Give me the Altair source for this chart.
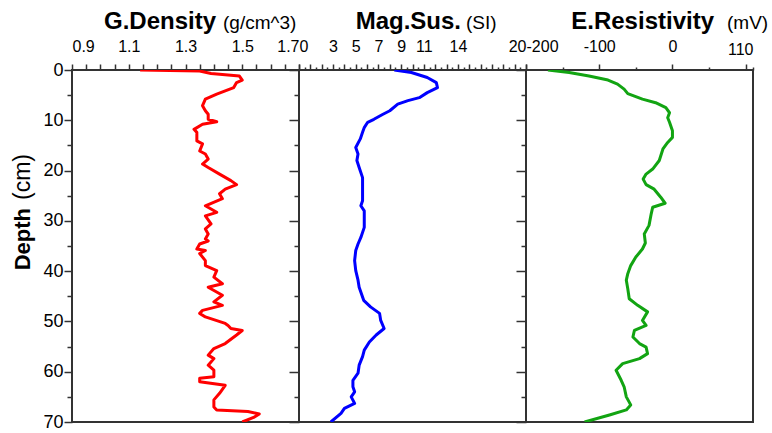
import altair as alt
import pandas as pd

# Core profiles: depth below surface (cm) and measured value
density_depth = [0.0, 0.2, 0.7, 1.2, 2.0, 2.5, 3.5, 4.8, 5.8, 7.1, 8.1, 8.8, 9.8, 10.3, 10.8,
                 11.8, 12.4, 14.1, 14.7, 16.1, 16.7, 17.7, 18.7, 19.4, 20.7, 22.0, 22.8, 23.7,
                 24.6, 25.6, 27.0, 28.3, 29.0, 30.6, 31.6, 32.6, 33.6, 34.0, 34.6, 35.6, 35.9,
                 36.5, 37.9, 38.9, 39.9, 41.2, 42.5, 43.2, 44.8, 46.1, 46.8, 47.8, 48.4, 49.1,
                 50.4, 50.8, 51.4, 51.8, 52.7, 54.4, 55.4, 56.7, 57.4, 58.7, 59.7, 61.0, 61.3,
                 62.0, 62.7, 64.3, 65.6, 67.0, 67.6, 67.9, 68.4, 69.1, 70.0]
density_value = [1.14, 1.35, 1.39, 1.49, 1.50, 1.48, 1.47, 1.41, 1.37, 1.36, 1.37, 1.38, 1.38,
                 1.41, 1.36, 1.33, 1.34, 1.34, 1.36, 1.35, 1.37, 1.38, 1.36, 1.38, 1.42, 1.46,
                 1.48, 1.44, 1.42, 1.43, 1.37, 1.41, 1.37, 1.39, 1.37, 1.38, 1.37, 1.38, 1.35,
                 1.34, 1.37, 1.35, 1.37, 1.37, 1.41, 1.40, 1.43, 1.38, 1.43, 1.40, 1.43, 1.36,
                 1.35, 1.37, 1.44, 1.45, 1.46, 1.50, 1.48, 1.44, 1.40, 1.38, 1.40, 1.38, 1.40,
                 1.40, 1.35, 1.35, 1.44, 1.42, 1.40, 1.40, 1.41, 1.52, 1.56, 1.54, 1.50]

magsus_depth = [0.0, 0.5, 1.5, 2.5, 3.5, 4.5, 5.5, 6.1, 6.8, 8.1, 8.8, 9.8, 10.4, 11.4, 12.4,
                13.7, 15.4, 16.7, 18.0, 19.4, 21.4, 23.3, 26.0, 27.0, 28.0, 31.3, 33.3, 34.6,
                35.9, 37.9, 39.9, 41.8, 43.2, 45.8, 47.1, 48.4, 49.8, 51.4, 52.7, 54.1, 55.7,
                57.0, 58.7, 60.3, 61.7, 63.0, 64.0, 65.0, 66.3, 67.3, 68.3, 70.0]
magsus_value = [8.4, 9.9, 11.3, 12.1, 12.2, 11.3, 10.6, 9.6, 8.7, 8.0, 7.4, 6.6, 6.05, 5.76,
                5.6, 5.4, 5.0, 5.2, 5.1, 5.3, 5.6, 5.6, 5.6, 5.45, 5.75, 5.75, 5.45, 5.2, 5.0,
                4.9, 5.0, 5.2, 5.3, 5.7, 6.3, 7.1, 7.2, 7.5, 6.8, 6.2, 5.75, 5.6, 5.3, 5.2,
                4.75, 4.75, 4.9, 4.6, 4.9, 4.0, 3.7, 2.8]

eres_depth = [0.0, 0.5, 1.2, 2.0, 2.8, 3.8, 4.7, 5.8, 6.5, 7.5, 8.5, 9.5, 10.4, 12.1, 13.4,
              14.4, 15.7, 18.0, 19.7, 20.7, 21.7, 22.8, 23.7, 25.3, 26.5, 27.3, 28.6, 30.9,
              32.6, 34.4, 35.6, 37.2, 38.9, 40.5, 41.8, 43.5, 45.5, 46.8, 48.1, 49.8, 50.8,
              51.8, 53.1, 54.4, 55.1, 56.4, 57.4, 58.4, 59.7, 61.7, 63.0, 65.0, 66.6, 67.6,
              68.6, 70.0]
eres_value = [-170, -141, -114, -88, -75, -66, -61, -41, -23, -9, -4, -6.5, -4, 0, 0, -6.5,
              -13, -18, -27, -36, -40, -36, -25, -16, -10, -27, -29, -32, -38.5, -37, -41, -50,
              -57, -61, -63, -61, -59, -47.5, -34, -41, -36, -52, -54, -45, -36, -34, -45, -68,
              -77, -70, -66, -63, -57, -63, -86, -120]

# Axis ticks and the subset that carries a label
density_ticks = [round(0.9 + 0.05 * i, 2) for i in range(17)]
density_labels = [0.9, 1.1, 1.3, 1.5, 1.7]
magsus_ticks = [i * 0.5 for i in range(41)]
magsus_labels = [0, 3, 5, 7, 9, 11, 14, 20]
eres_ticks = [-200, -150, -100, -50, 0, 50, 100, 110]
eres_labels = [-200, -100, 0, 110]
depth_ticks = list(range(0, 75, 5))

FONT = "Liberation Sans"
INK = "#333333"
W, H = 227, 352


def title_layer(text, x, align, size, weight, y=-41, angle=0, baseline="alphabetic"):
    return alt.Chart(pd.DataFrame({"t": [text]})).mark_text(
        align=align, baseline=baseline, font=FONT, fontSize=size, fontWeight=weight,
        color="black", angle=angle,
    ).encode(x=alt.value(x), y=alt.value(y), text="t:N")


def panel(depths, values, domain, color, ticks, labels, xtick, name, unit,
          name_x, unit_x, first):
    df = pd.DataFrame({"depth": depths, "value": values})
    label_list = "[" + ",".join(str(v) for v in labels) + "]"
    x_axis = alt.Axis(
        orient="top", values=ticks,
        labelExpr=f"indexof({label_list}, datum.value) >= 0 ? '' + datum.value : ''",
        tickSize=xtick, labelFlush=True, labelOverlap=False, labelBound=False,
        domain=False, grid=False, title=None, labelFont=FONT, labelFontSize=16,
        labelColor="black", tickColor=INK, tickWidth=1.5, labelPadding=10,
    )
    if first:
        y_axis = alt.Axis(
            orient="left", values=depth_ticks,
            labelExpr="datum.value % 10 === 0 ? datum.label : ''",
            tickSize={"condition": {"test": "datum.value % 10 === 0", "value": 8}, "value": 5},
            labelOverlap=False, labelBound=False, domain=False, grid=False, title=None,
            labelFont=FONT, labelFontSize=18, labelColor="black", tickColor=INK,
            tickWidth=1.5, labelPadding=1,
        )
    else:
        y_axis = alt.Axis(
            orient="left", values=depth_ticks, labels=False,
            tickSize={"condition": {"test": "datum.value % 10 === 0", "value": 10}, "value": 5},
            domain=False, grid=False, title=None, tickColor=INK, tickWidth=1.5,
        )
    line = alt.Chart(df).mark_line(color=color, strokeWidth=3, strokeJoin="round", clip=True).encode(
        x=alt.X("value:Q", scale=alt.Scale(domain=domain, nice=False, zero=False), axis=x_axis),
        y=alt.Y("depth:Q", scale=alt.Scale(domain=[0, 70], reverse=True, nice=False), axis=y_axis),
        order="depth:Q",
    )
    layers = [
        line,
        title_layer(name, name_x, "right", 24, "bold"),
        title_layer(unit, unit_x, "left", 19, "normal"),
    ]
    if first:
        layers.append(title_layer("Depth", -49, "right", 22, "bold", y=138, angle=270, baseline="middle"))
        layers.append(title_layer("(cm)", -49, "left", 23, "normal", y=130, angle=270, baseline="middle"))
    return alt.layer(*layers).properties(width=W, height=H)


p1 = panel(density_depth, density_value, [0.9, 1.7], "#ff0000", density_ticks, density_labels,
           6, "G.Density", "(g/cm^3)", 144, 151, True)
p2 = panel(magsus_depth, magsus_value, [0, 20], "#0000ff", magsus_ticks, magsus_labels,
           {"condition": {"test": "datum.value % 1 === 0", "value": 6}, "value": 3},
           "Mag.Sus.", "(SI)", 162, 167, False)
p3 = panel(eres_depth, eres_value, [-200, 110], "#12a412", eres_ticks, eres_labels,
           {"condition": {"test": "datum.value % 100 === 0", "value": 6}, "value": 3},
           "E.Resistivity", "(mV)", 188, 201, False)

chart = alt.hconcat(p1, p2, p3, spacing=0, bounds="flush").properties(
    padding={"left": 11, "top": 9, "right": 0, "bottom": 0}
).configure_view(stroke=INK, strokeWidth=2).configure_axis(labelFont=FONT)

chart.save("out.html", embed_options={"renderer": "svg", "actions": False})
